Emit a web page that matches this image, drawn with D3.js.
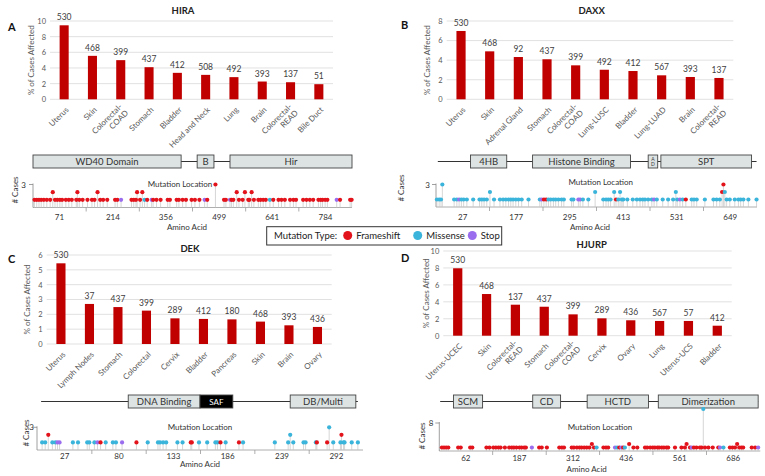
<!DOCTYPE html>
<html><head><meta charset="utf-8">
<script src="https://cdn.jsdelivr.net/npm/d3@7"></script>
<style>body{margin:0;background:#fff}svg{display:block;font-family:Lato,"Open Sans",sans-serif}</style>
</head><body><svg id="c" width="765" height="476"></svg>
<script>
// ---------------- DATA ----------------
const hiraCategories = ["Uterus","Skin","Colorectal-\nCOAD","Stomach","Bladder","Head and Neck","Lung","Brain","Colorectal-\nREAD","Bile Duct"];
const hiraValues = [9.45,5.55,5.0,4.1,3.38,3.12,2.83,2.27,2.18,1.93];
const hiraCounts = [530,468,399,437,412,508,492,393,137,51];
const hiraYTicks = [0,2,4,6,8,10];

const daxxCategories = ["Uterus","Skin","Adrenal Gland","Stomach","Colorectal-\nCOAD","Lung-LUSC","Bladder","Lung-LUAD","Brain","Colorectal-\nREAD"];
const daxxValues = [6.98,4.9,4.32,4.09,3.47,3.02,2.89,2.45,2.28,2.18];
const daxxCounts = [530,468,92,437,399,492,412,567,393,137];
const daxxYTicks = [0,2,4,6,8];

const dekCategories = ["Uterus","Lymph Nodes","Stomach","Colorectal","Cervix","Bladder","Pancreas","Skin","Brain","Ovary"];
const dekValues = [5.44,2.70,2.49,2.25,1.73,1.69,1.66,1.51,1.26,1.15];
const dekCounts = [530,37,437,399,289,412,180,468,393,436];
const dekYTicks = [0,1,2,3,4,5,6];

const hjurpCategories = ["Uterus-UCEC","Skin","Colorectal-\nREAD","Stomach","Colorectal-\nCOAD","Cervix","Ovary","Lung","Uterus-UCS","Bladder"];
const hjurpValues = [7.96,4.92,3.66,3.42,2.52,2.05,1.82,1.74,1.74,1.18];
const hjurpCounts = [530,468,137,437,399,289,436,567,57,412];
const hjurpYTicks = [0,2,4,6,8,10];

// protein domains: [name, start aa, end aa]
const hiraDomains = [["WD40 Domain",0,397],["B",440,485],["Hir",528,855]];
const hiraProteinLine = [0,855];
const daxxDomains = [["4HB",76,156],["Histone Binding",213,429],["A\nD",468,489],["SPT",496,696]];
const daxxProteinLine = [4,707];
const dekDomains = [["DNA Binding",89,159],["SAF",159,191],["DB/Multi",247,311]];
const dekProteinLine = [4,313];
const hjurpDomains = [["SCM",33,101],["CD",218,283],["HCTD",345,488],["Dimerization",511,744]];
const hjurpProteinLine = [2,744];

// amino-acid axis ticks
const hiraAxisTicks = [71,214,356,499,641,784];
const hiraAxisLabels = ["71","214","356","499","641","784"];
const daxxAxisTicks = [59,177,295,413,531,649];
const daxxAxisLabels = ["27","177","295","413","531","649"];
const dekAxisTicks = [27,80,133,186,239,292];
const dekAxisLabels = ["27","80","133","186","239","292"];
const hjurpAxisTicks = [62,187,312,436,561,686];
const hjurpAxisLabels = ["62","187","312","436","561","686"];

// mutations: number = position (default type, 1 case) or [position, type, cases]
const hiraMutations = [4,10,16,22,29,37,46,[53,"F",2],59,65,72,78,88,96,104,116,[119,"F",2],124,133,146,158,165,[173,"F",2],180,188,199,220,226,[236,"S",1],264,270,276,[279,"F",2],287,[293,"F",2],[299,"M",1],306,[318,"S",1],322,331,342,361,367,385,391,401,410,425,434,446,[460,"S",1],467,[489,"F",3],512,517,[528,"S",1],532,537,[546,"F",2],552,562,[568,"F",2],577,580,[586,"F",2],592,604,610,617,624,[635,"M",1],644,658,666,675,689,698,705,724,733,742,751,765,771,776,783,789,[814,"S",1],823,850,854];
const daxxMutations = [2,7,11,[14,"M",3],40,46,[51,"S",1],56,61,68,82,96,101,106,112,[119,"M",2],128,141,148,154,160,165,170,176,182,189,204,229,[233,"S",1],[238,"F",1],[243,"F",1],248,253,259,264,270,277,282,299,303,[314,"S",1],[318,"S",1],324,336,[351,"M",2],369,375,380,385,[393,"M",2],[397,"F",1],402,[406,"M",2],410,413,422,434,443,450,456,461,468,476,[481,"S",1],487,500,512,523,[529,"M",2],532,[538,"S",1],544,[551,"F",1],564,569,575,593,612,619,626,[634,"F",3],[631,"F",2],[637,"M",2],641,648,659,667,672,678,689,707];
const dekMutations = [5,8,[11,"F",2],15,18,[20,"S",1],[22,"S",1],35,40,49,51,56,[59,"S",1],[62,"F",1],67,74,77,[83,"S",1],[97,"F",1],108,118,120,123,126,137,142,[150,"F",1],[151,"F",1],158,166,174,176,[179,"F",1],184,[197,"F",1],201,232,245,[247,"M",2],250,260,262,272,[273,"F",1],[283,"F",1],[285,"M",3],289,296,[297,"F",2],299,300,307,313];
const hjurpMutations = [6,11,16,21,44,50,72,77,110,117,126,132,138,143,153,163,169,174,180,187,192,198,202,[216,"S",1],233,239,251,280,286,291,309,314,321,327,332,338,344,350,[356,"F",2],361,[367,"M",1],383,389,394,[410,"S",1],[415,"M",1],420,[425,"S",1],429,[433,"M",1],[443,"F",2],453,462,480,485,492,498,503,509,513,519,524,530,534,550,565,573,[577,"F",2],585,[589,"S",1],594,600,608,612,[616,"M",12],620,628,638,651,[655,"S",1],[663,"M",1],678,684,690,[695,"F",2],700,705,709,729,737,[744,"S",1]];

const mutTypes = ["F","M","S"];
const mutTypeNames = ["Frameshift","Missense","Stop"];
const mutColors = ["#e3131b","#3ab4da","#9a6cee"];

// ---------------- DRAWING ----------------
const svg = d3.select("#c");
const FONT = "Lato, 'Open Sans', sans-serif";
const colorOf = t => mutColors[mutTypes.indexOf(t)];

function barPanel(o) {
  const g = svg.append("g");
  const idx = o.categories.map((c, i) => i);
  const x = d3.scaleBand().domain(idx).range([o.left, o.right]).paddingInner(0.68).paddingOuter(0.34);
  const y = d3.scaleLinear().domain([0, d3.max(o.ticks)]).range([o.bottom, o.top]);
  g.selectAll("line.grid").data(o.ticks).join("line").attr("class","grid")
    .attr("x1", o.left).attr("x2", o.right).attr("y1", d => y(d)).attr("y2", d => y(d))
    .attr("stroke", "#d9d9d9").attr("stroke-width", 0.8);
  const ax = g.append("g").attr("transform", `translate(${o.left - 4},0)`)
    .call(d3.axisLeft(y).tickValues(o.ticks).tickFormat(d3.format("d")).tickSize(0).tickPadding(0));
  ax.select(".domain").remove();
  ax.selectAll("text").attr("font-size", 7.5).attr("fill", "#595959").attr("font-family", FONT);
  g.selectAll("rect.bar").data(o.values).join("rect").attr("class","bar")
    .attr("x", (d, i) => x(i)).attr("width", x.bandwidth())
    .attr("y", d => y(d)).attr("height", d => y(0) - y(d)).attr("fill", "#c00000");
  g.selectAll("text.cnt").data(o.counts).join("text").attr("class","cnt")
    .attr("x", (d, i) => x(i) + x.bandwidth() / 2).attr("y", (d, i) => y(o.values[i]) - 5)
    .attr("text-anchor", "middle").attr("font-size", 8.5).attr("fill", "#404040").text(d => d);
  const lab = g.selectAll("text.cat").data(o.categories).join("text").attr("class","cat")
    .attr("transform", (d, i) => `translate(${x(i) + x.bandwidth() / 2 + 3},${o.bottom + 9}) rotate(-45)`)
    .attr("text-anchor", "end").attr("font-size", 8).attr("fill", "#595959");
  lab.each(function(d) {
    const lines = d.split("\n");
    const t = d3.select(this);
    lines.forEach((l, k) => {
      t.append("tspan").attr("x", 0).attr("dy", k === 0 ? (0.35 - 0.55 * (lines.length - 1)) + "em" : "1.1em").text(l);
    });
  });
  svg.append("text").attr("x", o.titleX).attr("y", o.titleY).attr("text-anchor", "middle")
    .attr("font-size", 9.5).attr("font-weight", "bold").attr("fill", "#222").text(o.title);
  svg.append("text").attr("x", o.letterX).attr("y", o.letterY)
    .attr("font-size", 11).attr("font-weight", "bold").attr("fill", "#111").text(o.letter);
  svg.append("text").attr("transform", `translate(${o.yTitleX},${(o.top + o.bottom) / 2}) rotate(-90)`)
    .attr("text-anchor", "middle").attr("font-size", 8).attr("fill", "#595959").text("% of Cases Affected");
}

function lolliPanel(o) {
  const g = svg.append("g");
  const x = d3.scaleLinear().domain([0, o.length]).range([o.left, o.right]);
  const y = d3.scaleLinear().domain([0, o.yMax]).range([o.base, o.yTopPx]);
  // protein diagram
  const mid = o.domTop + o.domH / 2;
  g.append("line").attr("x1", x(o.line[0])).attr("x2", x(o.line[1])).attr("y1", mid).attr("y2", mid)
    .attr("stroke", "#333").attr("stroke-width", 1.2);
  o.domains.forEach(d => {
    const dark = d[0] === "SAF";
    g.append("rect").attr("x", x(d[1])).attr("y", o.domTop).attr("width", x(d[2]) - x(d[1])).attr("height", o.domH)
      .attr("fill", dark ? "#000" : "#dde3e3").attr("stroke", "#444").attr("stroke-width", 0.9);
    const lines = d[0].split("\n");
    if (lines.length > 1) {
      lines.forEach((l, k) => g.append("text").attr("x", (x(d[1]) + x(d[2])) / 2).attr("y", o.domTop + 5.5 + k * 5.5)
        .attr("text-anchor", "middle").attr("font-size", 5).attr("fill", "#333").text(l));
    } else {
      g.append("text").attr("x", (x(d[1]) + x(d[2])) / 2).attr("y", mid + 3.4)
        .attr("text-anchor", "middle").attr("font-size", dark ? 8 : 9.5).attr("fill", dark ? "#fff" : "#333").text(d[0]);
    }
  });
  // axes
  g.append("line").attr("x1", x(0)).attr("x2", x(o.length)).attr("y1", o.base).attr("y2", o.base)
    .attr("stroke", "#999").attr("stroke-width", 0.8);
  g.append("line").attr("x1", x(0)).attr("x2", x(0)).attr("y1", o.base).attr("y2", y(o.yMax) - 1)
    .attr("stroke", "#888").attr("stroke-width", 0.8);
  g.append("line").attr("x1", x(0) - 4).attr("x2", x(0)).attr("y1", y(o.yMax)).attr("y2", y(o.yMax))
    .attr("stroke", "#888").attr("stroke-width", 0.8);
  g.append("text").attr("x", x(0) - o.yLabOff).attr("y", y(o.yMax) + 3).attr("text-anchor", "end")
    .attr("font-size", 8).attr("fill", "#333").text(o.yMax);
  g.append("text").attr("transform", `translate(${o.casesX},${o.casesY}) rotate(-90)`).attr("text-anchor", "middle")
    .attr("font-size", 8).attr("fill", "#333").text("# Cases");
  const mids = o.ticks.slice(1).map((t, i) => (t + o.ticks[i]) / 2);
  g.selectAll("line.tk").data(mids).join("line").attr("class","tk")
    .attr("x1", d => x(d)).attr("x2", d => x(d)).attr("y1", o.base).attr("y2", o.base + 4)
    .attr("stroke", "#999").attr("stroke-width", 0.8);
  g.selectAll("text.tl").data(o.ticks).join("text").attr("class","tl")
    .attr("x", d => x(d)).attr("y", o.tickY).attr("text-anchor", "middle")
    .attr("font-size", 8).attr("fill", "#333").text((d, i) => o.tickLabels[i]);
  g.append("text").attr("x", o.aminoX).attr("y", o.aminoY).attr("text-anchor", "middle")
    .attr("font-size", 8).attr("fill", "#333").text("Amino Acid");
  g.append("text").attr("x", o.mutLocX).attr("y", o.mutLocY).attr("text-anchor", "middle")
    .attr("font-size", 8).attr("fill", "#333").text("Mutation Location");
  // lollipops
  const muts = o.mutations.map(m => Array.isArray(m) ? {p: m[0], t: m[1], c: m[2]} : {p: m, t: o.defType, c: 1});
  g.selectAll("line.stem").data(muts).join("line").attr("class","stem")
    .attr("x1", d => x(d.p)).attr("x2", d => x(d.p)).attr("y1", o.base).attr("y2", d => y(d.c))
    .attr("stroke", "#c4c4c4").attr("stroke-width", 0.7);
  g.selectAll("circle.dot").data(muts).join("circle").attr("class","dot")
    .attr("cx", d => x(d.p)).attr("cy", d => y(d.c)).attr("r", 2.1).attr("fill", d => colorOf(d.t));
}

barPanel({categories: hiraCategories, values: hiraValues, counts: hiraCounts, ticks: hiraYTicks,
  left: 50, right: 333, bottom: 99.3, top: 21, title: "HIRA", titleX: 183, titleY: 13.5,
  letter: "A", letterX: 8, letterY: 31, yTitleX: 34});
barPanel({categories: daxxCategories, values: daxxValues, counts: daxxCounts, ticks: daxxYTicks,
  left: 446.7, right: 733.3, bottom: 99.3, top: 21, title: "DAXX", titleX: 591.7, titleY: 13.5,
  letter: "B", letterX: 401, letterY: 29, yTitleX: 430});
barPanel({categories: dekCategories, values: dekValues, counts: dekCounts, ticks: dekYTicks,
  left: 46.7, right: 331.7, bottom: 344, top: 255, title: "DEK", titleX: 190, titleY: 251.5,
  letter: "C", letterX: 8, letterY: 263, yTitleX: 30});
barPanel({categories: hjurpCategories, values: hjurpValues, counts: hjurpCounts, ticks: hjurpYTicks,
  left: 443.3, right: 731.7, bottom: 335.7, top: 251, title: "HJURP", titleX: 591.7, titleY: 247.5,
  letter: "D", letterX: 401, letterY: 262, yTitleX: 429});

lolliPanel({length: 855, left: 33, right: 352, base: 207.5, yMax: 3, yTopPx: 184.5, domTop: 155, domH: 13,
  domains: hiraDomains, line: hiraProteinLine, ticks: hiraAxisTicks, tickLabels: hiraAxisLabels,
  mutations: hiraMutations, defType: "F", tickY: 219.5, aminoX: 187, aminoY: 230,
  mutLocX: 180, mutLocY: 187, casesX: 18, casesY: 190, yLabOff: 7});
lolliPanel({length: 708, left: 436, right: 757, base: 207, yMax: 3, yTopPx: 184.5, domTop: 155, domH: 13,
  domains: daxxDomains, line: daxxProteinLine, ticks: daxxAxisTicks, tickLabels: daxxAxisLabels,
  mutations: daxxMutations, defType: "M", tickY: 219.5, aminoX: 590, aminoY: 230,
  mutLocX: 600.7, mutLocY: 184.5, casesX: 404, casesY: 188, yLabOff: 6});
lolliPanel({length: 318, left: 37, right: 363, base: 450, yMax: 3, yTopPx: 427.3, domTop: 395, domH: 13,
  domains: dekDomains, line: dekProteinLine, ticks: dekAxisTicks, tickLabels: dekAxisLabels,
  mutations: dekMutations, defType: "M", tickY: 458.5, aminoX: 200, aminoY: 467,
  mutLocX: 200, mutLocY: 429.5, casesX: 29, casesY: 433, yLabOff: 3});
lolliPanel({length: 749, left: 439.3, right: 760.3, base: 451, yMax: 8, yTopPx: 423, domTop: 395, domH: 13,
  domains: hjurpDomains, line: hjurpProteinLine, ticks: hjurpAxisTicks, tickLabels: hjurpAxisLabels,
  mutations: hjurpMutations, defType: "F", tickY: 461, aminoX: 586.7, aminoY: 472,
  mutLocX: 600, mutLocY: 429.5, casesX: 425, casesY: 436, yLabOff: 6});

// legend
const lg = svg.append("g");
lg.append("rect").attr("x", 266.7).attr("y", 226.7).attr("width", 235).attr("height", 18.3)
  .attr("fill", "#fff").attr("stroke", "#333").attr("stroke-width", 1);
lg.append("text").attr("x", 274).attr("y", 238.8).attr("font-size", 9.5).attr("fill", "#222").text("Mutation Type:");
const legX = [347.7, 417.7, 472.3];
mutTypes.forEach((t, i) => {
  lg.append("circle").attr("cx", legX[i]).attr("cy", 235.5).attr("r", 4.5).attr("fill", mutColors[i]);
  lg.append("text").attr("x", legX[i] + 8.5).attr("y", 238.8).attr("font-size", 9.5).attr("fill", "#222").text(mutTypeNames[i]);
});
</script></body></html>
